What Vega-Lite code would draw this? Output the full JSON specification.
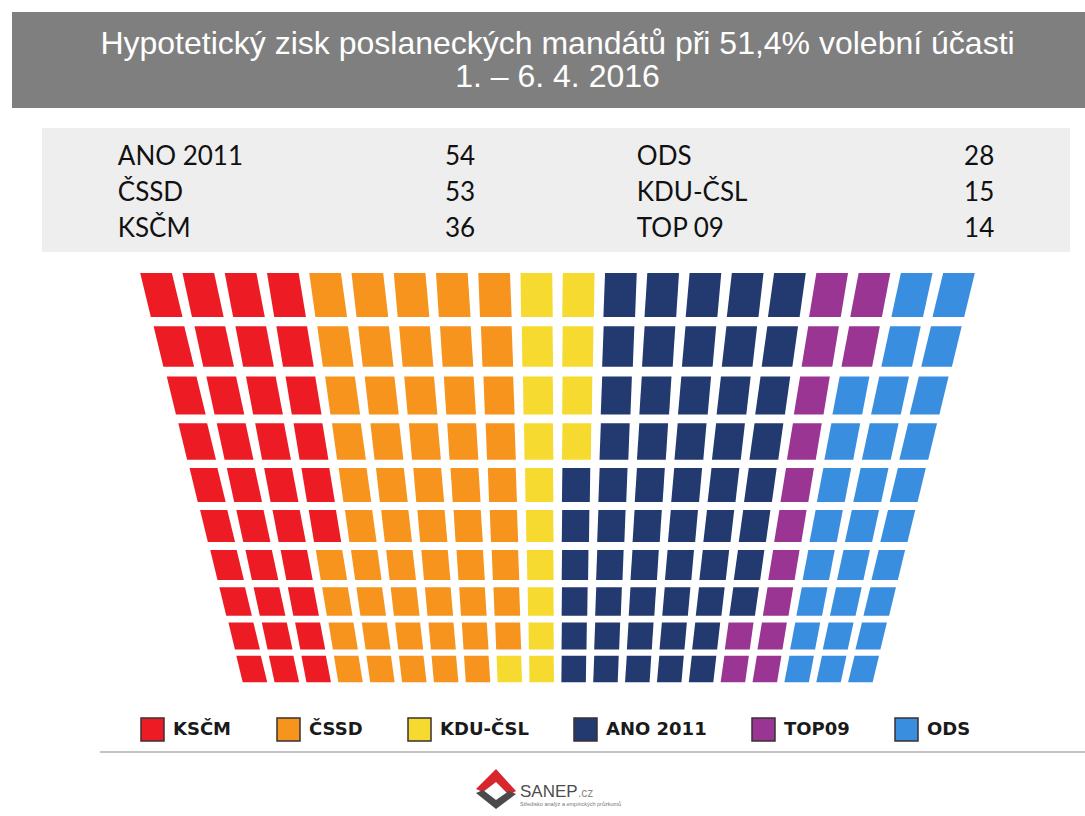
{
  "$schema": "https://vega.github.io/schema/vega-lite/v6.json",
  "background": "#ffffff",
  "padding": {"left": 12, "top": 12, "right": 0, "bottom": 0},
  "config": {"view": {"stroke": null}, "font": "Liberation Sans"},
  "datasets": {
    "table": [
      {"col": 1, "line": 1, "name": "ANO 2011", "seats": 54},
      {"col": 1, "line": 2, "name": "ČSSD", "seats": 53},
      {"col": 1, "line": 3, "name": "KSČM", "seats": 36},
      {"col": 2, "line": 1, "name": "ODS", "seats": 28},
      {"col": 2, "line": 2, "name": "KDU-ČSL", "seats": 15},
      {"col": 2, "line": 3, "name": "TOP 09", "seats": 14}
    ],
    "seats": [
      {"row":1,"col":1,"party":"KSČM"},{"row":1,"col":2,"party":"KSČM"},{"row":1,"col":3,"party":"KSČM"},{"row":1,"col":4,"party":"KSČM"},
      {"row":1,"col":5,"party":"ČSSD"},{"row":1,"col":6,"party":"ČSSD"},{"row":1,"col":7,"party":"ČSSD"},{"row":1,"col":8,"party":"ČSSD"},{"row":1,"col":9,"party":"ČSSD"},
      {"row":1,"col":10,"party":"KDU-ČSL"},{"row":1,"col":11,"party":"KDU-ČSL"},
      {"row":1,"col":12,"party":"ANO 2011"},{"row":1,"col":13,"party":"ANO 2011"},{"row":1,"col":14,"party":"ANO 2011"},{"row":1,"col":15,"party":"ANO 2011"},{"row":1,"col":16,"party":"ANO 2011"},
      {"row":1,"col":17,"party":"TOP09"},{"row":1,"col":18,"party":"TOP09"},
      {"row":1,"col":19,"party":"ODS"},{"row":1,"col":20,"party":"ODS"},

      {"row":2,"col":1,"party":"KSČM"},{"row":2,"col":2,"party":"KSČM"},{"row":2,"col":3,"party":"KSČM"},{"row":2,"col":4,"party":"KSČM"},
      {"row":2,"col":5,"party":"ČSSD"},{"row":2,"col":6,"party":"ČSSD"},{"row":2,"col":7,"party":"ČSSD"},{"row":2,"col":8,"party":"ČSSD"},{"row":2,"col":9,"party":"ČSSD"},
      {"row":2,"col":10,"party":"KDU-ČSL"},{"row":2,"col":11,"party":"KDU-ČSL"},
      {"row":2,"col":12,"party":"ANO 2011"},{"row":2,"col":13,"party":"ANO 2011"},{"row":2,"col":14,"party":"ANO 2011"},{"row":2,"col":15,"party":"ANO 2011"},{"row":2,"col":16,"party":"ANO 2011"},
      {"row":2,"col":17,"party":"TOP09"},{"row":2,"col":18,"party":"TOP09"},
      {"row":2,"col":19,"party":"ODS"},{"row":2,"col":20,"party":"ODS"},

      {"row":3,"col":1,"party":"KSČM"},{"row":3,"col":2,"party":"KSČM"},{"row":3,"col":3,"party":"KSČM"},{"row":3,"col":4,"party":"KSČM"},
      {"row":3,"col":5,"party":"ČSSD"},{"row":3,"col":6,"party":"ČSSD"},{"row":3,"col":7,"party":"ČSSD"},{"row":3,"col":8,"party":"ČSSD"},{"row":3,"col":9,"party":"ČSSD"},
      {"row":3,"col":10,"party":"KDU-ČSL"},{"row":3,"col":11,"party":"KDU-ČSL"},
      {"row":3,"col":12,"party":"ANO 2011"},{"row":3,"col":13,"party":"ANO 2011"},{"row":3,"col":14,"party":"ANO 2011"},{"row":3,"col":15,"party":"ANO 2011"},{"row":3,"col":16,"party":"ANO 2011"},
      {"row":3,"col":17,"party":"TOP09"},
      {"row":3,"col":18,"party":"ODS"},{"row":3,"col":19,"party":"ODS"},{"row":3,"col":20,"party":"ODS"},

      {"row":4,"col":1,"party":"KSČM"},{"row":4,"col":2,"party":"KSČM"},{"row":4,"col":3,"party":"KSČM"},{"row":4,"col":4,"party":"KSČM"},
      {"row":4,"col":5,"party":"ČSSD"},{"row":4,"col":6,"party":"ČSSD"},{"row":4,"col":7,"party":"ČSSD"},{"row":4,"col":8,"party":"ČSSD"},{"row":4,"col":9,"party":"ČSSD"},
      {"row":4,"col":10,"party":"KDU-ČSL"},{"row":4,"col":11,"party":"KDU-ČSL"},
      {"row":4,"col":12,"party":"ANO 2011"},{"row":4,"col":13,"party":"ANO 2011"},{"row":4,"col":14,"party":"ANO 2011"},{"row":4,"col":15,"party":"ANO 2011"},{"row":4,"col":16,"party":"ANO 2011"},
      {"row":4,"col":17,"party":"TOP09"},
      {"row":4,"col":18,"party":"ODS"},{"row":4,"col":19,"party":"ODS"},{"row":4,"col":20,"party":"ODS"},

      {"row":5,"col":1,"party":"KSČM"},{"row":5,"col":2,"party":"KSČM"},{"row":5,"col":3,"party":"KSČM"},{"row":5,"col":4,"party":"KSČM"},
      {"row":5,"col":5,"party":"ČSSD"},{"row":5,"col":6,"party":"ČSSD"},{"row":5,"col":7,"party":"ČSSD"},{"row":5,"col":8,"party":"ČSSD"},{"row":5,"col":9,"party":"ČSSD"},
      {"row":5,"col":10,"party":"KDU-ČSL"},
      {"row":5,"col":11,"party":"ANO 2011"},{"row":5,"col":12,"party":"ANO 2011"},{"row":5,"col":13,"party":"ANO 2011"},{"row":5,"col":14,"party":"ANO 2011"},{"row":5,"col":15,"party":"ANO 2011"},{"row":5,"col":16,"party":"ANO 2011"},
      {"row":5,"col":17,"party":"TOP09"},
      {"row":5,"col":18,"party":"ODS"},{"row":5,"col":19,"party":"ODS"},{"row":5,"col":20,"party":"ODS"},

      {"row":6,"col":1,"party":"KSČM"},{"row":6,"col":2,"party":"KSČM"},{"row":6,"col":3,"party":"KSČM"},{"row":6,"col":4,"party":"KSČM"},
      {"row":6,"col":5,"party":"ČSSD"},{"row":6,"col":6,"party":"ČSSD"},{"row":6,"col":7,"party":"ČSSD"},{"row":6,"col":8,"party":"ČSSD"},{"row":6,"col":9,"party":"ČSSD"},
      {"row":6,"col":10,"party":"KDU-ČSL"},
      {"row":6,"col":11,"party":"ANO 2011"},{"row":6,"col":12,"party":"ANO 2011"},{"row":6,"col":13,"party":"ANO 2011"},{"row":6,"col":14,"party":"ANO 2011"},{"row":6,"col":15,"party":"ANO 2011"},{"row":6,"col":16,"party":"ANO 2011"},
      {"row":6,"col":17,"party":"TOP09"},
      {"row":6,"col":18,"party":"ODS"},{"row":6,"col":19,"party":"ODS"},{"row":6,"col":20,"party":"ODS"},

      {"row":7,"col":1,"party":"KSČM"},{"row":7,"col":2,"party":"KSČM"},{"row":7,"col":3,"party":"KSČM"},
      {"row":7,"col":4,"party":"ČSSD"},{"row":7,"col":5,"party":"ČSSD"},{"row":7,"col":6,"party":"ČSSD"},{"row":7,"col":7,"party":"ČSSD"},{"row":7,"col":8,"party":"ČSSD"},{"row":7,"col":9,"party":"ČSSD"},
      {"row":7,"col":10,"party":"KDU-ČSL"},
      {"row":7,"col":11,"party":"ANO 2011"},{"row":7,"col":12,"party":"ANO 2011"},{"row":7,"col":13,"party":"ANO 2011"},{"row":7,"col":14,"party":"ANO 2011"},{"row":7,"col":15,"party":"ANO 2011"},{"row":7,"col":16,"party":"ANO 2011"},
      {"row":7,"col":17,"party":"TOP09"},
      {"row":7,"col":18,"party":"ODS"},{"row":7,"col":19,"party":"ODS"},{"row":7,"col":20,"party":"ODS"},

      {"row":8,"col":1,"party":"KSČM"},{"row":8,"col":2,"party":"KSČM"},{"row":8,"col":3,"party":"KSČM"},
      {"row":8,"col":4,"party":"ČSSD"},{"row":8,"col":5,"party":"ČSSD"},{"row":8,"col":6,"party":"ČSSD"},{"row":8,"col":7,"party":"ČSSD"},{"row":8,"col":8,"party":"ČSSD"},{"row":8,"col":9,"party":"ČSSD"},
      {"row":8,"col":10,"party":"KDU-ČSL"},
      {"row":8,"col":11,"party":"ANO 2011"},{"row":8,"col":12,"party":"ANO 2011"},{"row":8,"col":13,"party":"ANO 2011"},{"row":8,"col":14,"party":"ANO 2011"},{"row":8,"col":15,"party":"ANO 2011"},{"row":8,"col":16,"party":"ANO 2011"},
      {"row":8,"col":17,"party":"TOP09"},
      {"row":8,"col":18,"party":"ODS"},{"row":8,"col":19,"party":"ODS"},{"row":8,"col":20,"party":"ODS"},

      {"row":9,"col":1,"party":"KSČM"},{"row":9,"col":2,"party":"KSČM"},{"row":9,"col":3,"party":"KSČM"},
      {"row":9,"col":4,"party":"ČSSD"},{"row":9,"col":5,"party":"ČSSD"},{"row":9,"col":6,"party":"ČSSD"},{"row":9,"col":7,"party":"ČSSD"},{"row":9,"col":8,"party":"ČSSD"},{"row":9,"col":9,"party":"ČSSD"},
      {"row":9,"col":10,"party":"KDU-ČSL"},
      {"row":9,"col":11,"party":"ANO 2011"},{"row":9,"col":12,"party":"ANO 2011"},{"row":9,"col":13,"party":"ANO 2011"},{"row":9,"col":14,"party":"ANO 2011"},{"row":9,"col":15,"party":"ANO 2011"},
      {"row":9,"col":16,"party":"TOP09"},{"row":9,"col":17,"party":"TOP09"},
      {"row":9,"col":18,"party":"ODS"},{"row":9,"col":19,"party":"ODS"},{"row":9,"col":20,"party":"ODS"},

      {"row":10,"col":1,"party":"KSČM"},{"row":10,"col":2,"party":"KSČM"},{"row":10,"col":3,"party":"KSČM"},
      {"row":10,"col":4,"party":"ČSSD"},{"row":10,"col":5,"party":"ČSSD"},{"row":10,"col":6,"party":"ČSSD"},{"row":10,"col":7,"party":"ČSSD"},{"row":10,"col":8,"party":"ČSSD"},
      {"row":10,"col":9,"party":"KDU-ČSL"},{"row":10,"col":10,"party":"KDU-ČSL"},
      {"row":10,"col":11,"party":"ANO 2011"},{"row":10,"col":12,"party":"ANO 2011"},{"row":10,"col":13,"party":"ANO 2011"},{"row":10,"col":14,"party":"ANO 2011"},{"row":10,"col":15,"party":"ANO 2011"},
      {"row":10,"col":16,"party":"TOP09"},{"row":10,"col":17,"party":"TOP09"},
      {"row":10,"col":18,"party":"ODS"},{"row":10,"col":19,"party":"ODS"},{"row":10,"col":20,"party":"ODS"}
    ]
  },
  "spacing": 0,
  "center": true,
  "vconcat": [
    {
      "data": {"values": [{}]},
      "width": 1073, "height": 96,
      "view": {"fill": "#7f7f7f", "stroke": null},
      "mark": {"type": "text", "text": ["Hypotetický zisk poslaneckých mandátů při 51,4% volební účasti", "1. – 6. 4. 2016"], "font": "Liberation Sans", "fontSize": 32, "lineHeight": 33, "fill": "#ffffff", "align": "center", "baseline": "middle", "dx": 9, "dy": -16},
      "encoding": {}
    },
    {"data": {"values": []}, "width": 1, "height": 20, "mark": {"type": "text", "text": ""}, "encoding": {}},
    {
      "spacing": 0,
      "hconcat": [
        {"data": {"values": []}, "width": 15, "height": 1, "mark": {"type": "text", "text": ""}, "encoding": {}},
        {
          "data": {"name": "table"},
          "width": 1028, "height": 124,
          "view": {"fill": "#eeeeee", "stroke": null},
          "layer": [
            {
              "mark": {"type": "text", "align": "left", "baseline": "middle", "font": "Lato", "fontSize": 26, "fill": "#111111", "dy": 3},
              "encoding": {
                "x": {"field": "col", "type": "ordinal", "axis": null, "bandPosition": 0, "scale": {"type": "band", "paddingInner": 0.3115, "paddingOuter": 0.146}},
                "y": {"field": "line", "type": "ordinal", "axis": null, "scale": {"type": "band", "paddingInner": 0, "paddingOuter": 0.234}},
                "text": {"field": "name"}
              }
            },
            {
              "mark": {"type": "text", "align": "right", "baseline": "middle", "font": "Lato", "fontSize": 26, "fill": "#111111", "dy": 3},
              "encoding": {
                "x": {"field": "col", "type": "ordinal", "axis": null, "bandPosition": 1, "scale": {"type": "band", "paddingInner": 0.3115, "paddingOuter": 0.146}},
                "y": {"field": "line", "type": "ordinal", "axis": null, "scale": {"type": "band", "paddingInner": 0, "paddingOuter": 0.234}},
                "text": {"field": "seats"}
              }
            }
          ]
        }
      ]
    },
    {"data": {"values": []}, "width": 1, "height": 17, "mark": {"type": "text", "text": ""}, "encoding": {}},
    {
      "spacing": 0,
      "hconcat": [
        {"data": {"values": []}, "width": 18, "height": 1, "mark": {"type": "text", "text": ""}, "encoding": {}},
        {
          "data": {"name": "seats"},
          "spacing": 0,
          "center": true,
          "resolve": {"scale": {"x": "independent", "y": "independent", "shape": "independent"}},
          "vconcat": [
            {
              "width": 834, "height": 52,
              "transform": [{"filter": "datum.row === 1"}],
              "mark": {"type": "point", "filled": true, "opacity": 1, "size": 1936, "strokeWidth": 0},
              "encoding": {
                "x": {"field": "col", "type": "ordinal", "axis": null},
                "color": {"field": "party", "type": "nominal",
                  "scale": {"domain": ["KSČM", "ČSSD", "KDU-ČSL", "ANO 2011", "TOP09", "ODS"], "range": ["#ed1c24", "#f7941d", "#f6da2f", "#223a70", "#9a3593", "#3a8ee0"]},
                  "legend": {"title": null, "orient": "none", "legendX": 128, "legendY": 705, "direction": "horizontal", "symbolType": "square", "symbolSize": 529, "symbolStrokeWidth": 1.5, "symbolStrokeColor": "#3a3030", "labelFont": "DejaVu Sans", "labelFontSize": 18, "labelFontWeight": "bold", "labelColor": "#1a1a1a", "labelOffset": 8, "columnPadding": 42, "labelLimit": 300,
                    "encode": {"symbols": {"update": {"stroke": {"value": "#3a3030"}, "strokeWidth": {"value": 1.5}, "opacity": {"value": 1}}}}}},
                "shape": {"field": "col", "type": "nominal", "legend": null, "scale": {"domain": [1,2,3,4,5,6,7,8,9,10,11,12,13,14,15,16,17,18,19,20], "range": [
                  "M-0.962,-1L0.478,-1L0.962,1L-0.478,1Z","M-0.936,-1L0.504,-1L0.936,1L-0.504,1Z","M-0.911,-1L0.529,-1L0.911,1L-0.529,1Z","M-0.885,-1L0.555,-1L0.885,1L-0.555,1Z","M-0.86,-1L0.58,-1L0.86,1L-0.58,1Z",
                  "M-0.835,-1L0.605,-1L0.835,1L-0.605,1Z","M-0.809,-1L0.631,-1L0.809,1L-0.631,1Z","M-0.784,-1L0.656,-1L0.784,1L-0.656,1Z","M-0.758,-1L0.682,-1L0.758,1L-0.682,1Z","M-0.733,-1L0.707,-1L0.733,1L-0.707,1Z",
                  "M-0.707,-1L0.733,-1L0.707,1L-0.733,1Z","M-0.682,-1L0.758,-1L0.682,1L-0.758,1Z","M-0.656,-1L0.784,-1L0.656,1L-0.784,1Z","M-0.631,-1L0.809,-1L0.631,1L-0.809,1Z","M-0.605,-1L0.835,-1L0.605,1L-0.835,1Z",
                  "M-0.58,-1L0.86,-1L0.58,1L-0.86,1Z","M-0.555,-1L0.885,-1L0.555,1L-0.885,1Z","M-0.529,-1L0.911,-1L0.529,1L-0.911,1Z","M-0.504,-1L0.936,-1L0.504,1L-0.936,1Z","M-0.478,-1L0.962,-1L0.478,1L-0.962,1Z"]}}
              }
            },
            {
              "width": 808, "height": 51,
              "transform": [{"filter": "datum.row === 2"}],
              "mark": {"type": "point", "filled": true, "opacity": 1, "size": 1640, "strokeWidth": 0},
              "encoding": {
                "x": {"field": "col", "type": "ordinal", "axis": null},
                "color": {"field": "party", "type": "nominal", "legend": null},
                "shape": {"field": "col", "type": "nominal", "legend": null, "scale": {"domain": [1,2,3,4,5,6,7,8,9,10,11,12,13,14,15,16,17,18,19,20], "range": [
                  "M-1,-1L0.516,-1L1,1L-0.516,1Z","M-0.974,-1L0.542,-1L0.974,1L-0.542,1Z","M-0.949,-1L0.567,-1L0.949,1L-0.567,1Z","M-0.923,-1L0.593,-1L0.923,1L-0.593,1Z","M-0.898,-1L0.618,-1L0.898,1L-0.618,1Z",
                  "M-0.873,-1L0.643,-1L0.873,1L-0.643,1Z","M-0.847,-1L0.669,-1L0.847,1L-0.669,1Z","M-0.822,-1L0.694,-1L0.822,1L-0.694,1Z","M-0.796,-1L0.72,-1L0.796,1L-0.72,1Z","M-0.771,-1L0.745,-1L0.771,1L-0.745,1Z",
                  "M-0.745,-1L0.771,-1L0.745,1L-0.771,1Z","M-0.72,-1L0.796,-1L0.72,1L-0.796,1Z","M-0.694,-1L0.822,-1L0.694,1L-0.822,1Z","M-0.669,-1L0.847,-1L0.669,1L-0.847,1Z","M-0.643,-1L0.873,-1L0.643,1L-0.873,1Z",
                  "M-0.618,-1L0.898,-1L0.618,1L-0.898,1Z","M-0.593,-1L0.923,-1L0.593,1L-0.923,1Z","M-0.567,-1L0.949,-1L0.567,1L-0.949,1Z","M-0.542,-1L0.974,-1L0.542,1L-0.974,1Z","M-0.516,-1L1,-1L0.516,1L-1,1Z"]}}
              }
            },
            {
              "width": 782, "height": 47,
              "transform": [{"filter": "datum.row === 3"}],
              "mark": {"type": "point", "filled": true, "opacity": 1, "size": 1444, "strokeWidth": 0},
              "encoding": {
                "x": {"field": "col", "type": "ordinal", "axis": null},
                "color": {"field": "party", "type": "nominal", "legend": null},
                "shape": {"field": "col", "type": "nominal", "legend": null, "scale": {"domain": [1,2,3,4,5,6,7,8,9,10,11,12,13,14,15,16,17,18,19,20], "range": [
                  "M-1.024,-1L0.54,-1L1.024,1L-0.54,1Z","M-0.998,-1L0.566,-1L0.998,1L-0.566,1Z","M-0.973,-1L0.591,-1L0.973,1L-0.591,1Z","M-0.947,-1L0.617,-1L0.947,1L-0.617,1Z","M-0.922,-1L0.642,-1L0.922,1L-0.642,1Z",
                  "M-0.897,-1L0.667,-1L0.897,1L-0.667,1Z","M-0.871,-1L0.693,-1L0.871,1L-0.693,1Z","M-0.846,-1L0.718,-1L0.846,1L-0.718,1Z","M-0.82,-1L0.744,-1L0.82,1L-0.744,1Z","M-0.795,-1L0.769,-1L0.795,1L-0.769,1Z",
                  "M-0.769,-1L0.795,-1L0.769,1L-0.795,1Z","M-0.744,-1L0.82,-1L0.744,1L-0.82,1Z","M-0.718,-1L0.846,-1L0.718,1L-0.846,1Z","M-0.693,-1L0.871,-1L0.693,1L-0.871,1Z","M-0.667,-1L0.897,-1L0.667,1L-0.897,1Z",
                  "M-0.642,-1L0.922,-1L0.642,1L-0.922,1Z","M-0.617,-1L0.947,-1L0.617,1L-0.947,1Z","M-0.591,-1L0.973,-1L0.591,1L-0.973,1Z","M-0.566,-1L0.998,-1L0.566,1L-0.998,1Z","M-0.54,-1L1.024,-1L0.54,1L-1.024,1Z"]}}
              }
            },
            {
              "width": 759, "height": 45,
              "transform": [{"filter": "datum.row === 4"}],
              "mark": {"type": "point", "filled": true, "opacity": 1, "size": 1332, "strokeWidth": 0},
              "encoding": {
                "x": {"field": "col", "type": "ordinal", "axis": null},
                "color": {"field": "party", "type": "nominal", "legend": null},
                "shape": {"field": "col", "type": "nominal", "legend": null, "scale": {"domain": [1,2,3,4,5,6,7,8,9,10,11,12,13,14,15,16,17,18,19,20], "range": [
                  "M-1.032,-1L0.548,-1L1.032,1L-0.548,1Z","M-1.006,-1L0.574,-1L1.006,1L-0.574,1Z","M-0.981,-1L0.599,-1L0.981,1L-0.599,1Z","M-0.955,-1L0.625,-1L0.955,1L-0.625,1Z","M-0.93,-1L0.65,-1L0.93,1L-0.65,1Z",
                  "M-0.905,-1L0.675,-1L0.905,1L-0.675,1Z","M-0.879,-1L0.701,-1L0.879,1L-0.701,1Z","M-0.854,-1L0.726,-1L0.854,1L-0.726,1Z","M-0.828,-1L0.752,-1L0.828,1L-0.752,1Z","M-0.803,-1L0.777,-1L0.803,1L-0.777,1Z",
                  "M-0.777,-1L0.803,-1L0.777,1L-0.803,1Z","M-0.752,-1L0.828,-1L0.752,1L-0.828,1Z","M-0.726,-1L0.854,-1L0.726,1L-0.854,1Z","M-0.701,-1L0.879,-1L0.701,1L-0.879,1Z","M-0.675,-1L0.905,-1L0.675,1L-0.905,1Z",
                  "M-0.65,-1L0.93,-1L0.65,1L-0.93,1Z","M-0.625,-1L0.955,-1L0.625,1L-0.955,1Z","M-0.599,-1L0.981,-1L0.599,1L-0.981,1Z","M-0.574,-1L1.006,-1L0.574,1L-1.006,1Z","M-0.548,-1L1.032,-1L0.548,1L-1.032,1Z"]}}
              }
            },
            {
              "width": 737, "height": 42,
              "transform": [{"filter": "datum.row === 5"}],
              "mark": {"type": "point", "filled": true, "opacity": 1, "size": 1156, "strokeWidth": 0},
              "encoding": {
                "x": {"field": "col", "type": "ordinal", "axis": null},
                "color": {"field": "party", "type": "nominal", "legend": null},
                "shape": {"field": "col", "type": "nominal", "legend": null, "scale": {"domain": [1,2,3,4,5,6,7,8,9,10,11,12,13,14,15,16,17,18,19,20], "range": [
                  "M-1.062,-1L0.578,-1L1.062,1L-0.578,1Z","M-1.036,-1L0.604,-1L1.036,1L-0.604,1Z","M-1.011,-1L0.629,-1L1.011,1L-0.629,1Z","M-0.985,-1L0.655,-1L0.985,1L-0.655,1Z","M-0.96,-1L0.68,-1L0.96,1L-0.68,1Z",
                  "M-0.935,-1L0.705,-1L0.935,1L-0.705,1Z","M-0.909,-1L0.731,-1L0.909,1L-0.731,1Z","M-0.884,-1L0.756,-1L0.884,1L-0.756,1Z","M-0.858,-1L0.782,-1L0.858,1L-0.782,1Z","M-0.833,-1L0.807,-1L0.833,1L-0.807,1Z",
                  "M-0.807,-1L0.833,-1L0.807,1L-0.833,1Z","M-0.782,-1L0.858,-1L0.782,1L-0.858,1Z","M-0.756,-1L0.884,-1L0.756,1L-0.884,1Z","M-0.731,-1L0.909,-1L0.731,1L-0.909,1Z","M-0.705,-1L0.935,-1L0.705,1L-0.935,1Z",
                  "M-0.68,-1L0.96,-1L0.68,1L-0.96,1Z","M-0.655,-1L0.985,-1L0.655,1L-0.985,1Z","M-0.629,-1L1.011,-1L0.629,1L-1.011,1Z","M-0.604,-1L1.036,-1L0.604,1L-1.036,1Z","M-0.578,-1L1.062,-1L0.578,1L-1.062,1Z"]}}
              }
            },
            {
              "width": 716, "height": 40,
              "transform": [{"filter": "datum.row === 6"}],
              "mark": {"type": "point", "filled": true, "opacity": 1, "size": 1024, "strokeWidth": 0},
              "encoding": {
                "x": {"field": "col", "type": "ordinal", "axis": null},
                "color": {"field": "party", "type": "nominal", "legend": null},
                "shape": {"field": "col", "type": "nominal", "legend": null, "scale": {"domain": [1,2,3,4,5,6,7,8,9,10,11,12,13,14,15,16,17,18,19,20], "range": [
                  "M-1.092,-1L0.608,-1L1.092,1L-0.608,1Z","M-1.066,-1L0.634,-1L1.066,1L-0.634,1Z","M-1.041,-1L0.659,-1L1.041,1L-0.659,1Z","M-1.015,-1L0.685,-1L1.015,1L-0.685,1Z","M-0.99,-1L0.71,-1L0.99,1L-0.71,1Z",
                  "M-0.965,-1L0.735,-1L0.965,1L-0.735,1Z","M-0.939,-1L0.761,-1L0.939,1L-0.761,1Z","M-0.914,-1L0.786,-1L0.914,1L-0.786,1Z","M-0.888,-1L0.812,-1L0.888,1L-0.812,1Z","M-0.863,-1L0.837,-1L0.863,1L-0.837,1Z",
                  "M-0.837,-1L0.863,-1L0.837,1L-0.863,1Z","M-0.812,-1L0.888,-1L0.812,1L-0.888,1Z","M-0.786,-1L0.914,-1L0.786,1L-0.914,1Z","M-0.761,-1L0.939,-1L0.761,1L-0.939,1Z","M-0.735,-1L0.965,-1L0.735,1L-0.965,1Z",
                  "M-0.71,-1L0.99,-1L0.71,1L-0.99,1Z","M-0.685,-1L1.015,-1L0.685,1L-1.015,1Z","M-0.659,-1L1.041,-1L0.659,1L-1.041,1Z","M-0.634,-1L1.066,-1L0.634,1L-1.066,1Z","M-0.608,-1L1.092,-1L0.608,1L-1.092,1Z"]}}
              }
            },
            {
              "width": 696, "height": 38,
              "transform": [{"filter": "datum.row === 7"}],
              "mark": {"type": "point", "filled": true, "opacity": 1, "size": 900, "strokeWidth": 0},
              "encoding": {
                "x": {"field": "col", "type": "ordinal", "axis": null},
                "color": {"field": "party", "type": "nominal", "legend": null},
                "shape": {"field": "col", "type": "nominal", "legend": null, "scale": {"domain": [1,2,3,4,5,6,7,8,9,10,11,12,13,14,15,16,17,18,19,20], "range": [
                  "M-1.122,-1L0.638,-1L1.122,1L-0.638,1Z","M-1.096,-1L0.664,-1L1.096,1L-0.664,1Z","M-1.071,-1L0.689,-1L1.071,1L-0.689,1Z","M-1.045,-1L0.715,-1L1.045,1L-0.715,1Z","M-1.02,-1L0.74,-1L1.02,1L-0.74,1Z",
                  "M-0.995,-1L0.765,-1L0.995,1L-0.765,1Z","M-0.969,-1L0.791,-1L0.969,1L-0.791,1Z","M-0.944,-1L0.816,-1L0.944,1L-0.816,1Z","M-0.918,-1L0.842,-1L0.918,1L-0.842,1Z","M-0.893,-1L0.867,-1L0.893,1L-0.867,1Z",
                  "M-0.867,-1L0.893,-1L0.867,1L-0.893,1Z","M-0.842,-1L0.918,-1L0.842,1L-0.918,1Z","M-0.816,-1L0.944,-1L0.816,1L-0.944,1Z","M-0.791,-1L0.969,-1L0.791,1L-0.969,1Z","M-0.765,-1L0.995,-1L0.765,1L-0.995,1Z",
                  "M-0.74,-1L1.02,-1L0.74,1L-1.02,1Z","M-0.715,-1L1.045,-1L0.715,1L-1.045,1Z","M-0.689,-1L1.071,-1L0.689,1L-1.071,1Z","M-0.664,-1L1.096,-1L0.664,1L-1.096,1Z","M-0.638,-1L1.122,-1L0.638,1L-1.122,1Z"]}}
              }
            },
            {
              "width": 678, "height": 35,
              "transform": [{"filter": "datum.row === 8"}],
              "mark": {"type": "point", "filled": true, "opacity": 1, "size": 812, "strokeWidth": 0},
              "encoding": {
                "x": {"field": "col", "type": "ordinal", "axis": null},
                "color": {"field": "party", "type": "nominal", "legend": null},
                "shape": {"field": "col", "type": "nominal", "legend": null, "scale": {"domain": [1,2,3,4,5,6,7,8,9,10,11,12,13,14,15,16,17,18,19,20], "range": [
                  "M-1.142,-1L0.658,-1L1.142,1L-0.658,1Z","M-1.116,-1L0.684,-1L1.116,1L-0.684,1Z","M-1.091,-1L0.709,-1L1.091,1L-0.709,1Z","M-1.065,-1L0.735,-1L1.065,1L-0.735,1Z","M-1.04,-1L0.76,-1L1.04,1L-0.76,1Z",
                  "M-1.015,-1L0.785,-1L1.015,1L-0.785,1Z","M-0.989,-1L0.811,-1L0.989,1L-0.811,1Z","M-0.964,-1L0.836,-1L0.964,1L-0.836,1Z","M-0.938,-1L0.862,-1L0.938,1L-0.862,1Z","M-0.913,-1L0.887,-1L0.913,1L-0.887,1Z",
                  "M-0.887,-1L0.913,-1L0.887,1L-0.913,1Z","M-0.862,-1L0.938,-1L0.862,1L-0.938,1Z","M-0.836,-1L0.964,-1L0.836,1L-0.964,1Z","M-0.811,-1L0.989,-1L0.811,1L-0.989,1Z","M-0.785,-1L1.015,-1L0.785,1L-1.015,1Z",
                  "M-0.76,-1L1.04,-1L0.76,1L-1.04,1Z","M-0.735,-1L1.065,-1L0.735,1L-1.065,1Z","M-0.709,-1L1.091,-1L0.709,1L-1.091,1Z","M-0.684,-1L1.116,-1L0.684,1L-1.116,1Z","M-0.658,-1L1.142,-1L0.658,1L-1.142,1Z"]}}
              }
            },
            {
              "width": 660, "height": 34,
              "transform": [{"filter": "datum.row === 9"}],
              "mark": {"type": "point", "filled": true, "opacity": 1, "size": 729, "strokeWidth": 0},
              "encoding": {
                "x": {"field": "col", "type": "ordinal", "axis": null},
                "color": {"field": "party", "type": "nominal", "legend": null},
                "shape": {"field": "col", "type": "nominal", "legend": null, "scale": {"domain": [1,2,3,4,5,6,7,8,9,10,11,12,13,14,15,16,17,18,19,20], "range": [
                  "M-1.167,-1L0.683,-1L1.167,1L-0.683,1Z","M-1.141,-1L0.709,-1L1.141,1L-0.709,1Z","M-1.116,-1L0.734,-1L1.116,1L-0.734,1Z","M-1.09,-1L0.76,-1L1.09,1L-0.76,1Z","M-1.065,-1L0.785,-1L1.065,1L-0.785,1Z",
                  "M-1.04,-1L0.81,-1L1.04,1L-0.81,1Z","M-1.014,-1L0.836,-1L1.014,1L-0.836,1Z","M-0.989,-1L0.861,-1L0.989,1L-0.861,1Z","M-0.963,-1L0.887,-1L0.963,1L-0.887,1Z","M-0.938,-1L0.912,-1L0.938,1L-0.912,1Z",
                  "M-0.912,-1L0.938,-1L0.912,1L-0.938,1Z","M-0.887,-1L0.963,-1L0.887,1L-0.963,1Z","M-0.861,-1L0.989,-1L0.861,1L-0.989,1Z","M-0.836,-1L1.014,-1L0.836,1L-1.014,1Z","M-0.81,-1L1.04,-1L0.81,1L-1.04,1Z",
                  "M-0.785,-1L1.065,-1L0.785,1L-1.065,1Z","M-0.76,-1L1.09,-1L0.76,1L-1.09,1Z","M-0.734,-1L1.116,-1L0.734,1L-1.116,1Z","M-0.709,-1L1.141,-1L0.709,1L-1.141,1Z","M-0.683,-1L1.167,-1L0.683,1L-1.167,1Z"]}}
              }
            },
            {
              "width": 644, "height": 32,
              "transform": [{"filter": "datum.row === 10"}],
              "mark": {"type": "point", "filled": true, "opacity": 1, "size": 702, "strokeWidth": 0},
              "encoding": {
                "x": {"field": "col", "type": "ordinal", "axis": null},
                "color": {"field": "party", "type": "nominal", "legend": null},
                "shape": {"field": "col", "type": "nominal", "legend": null, "scale": {"domain": [1,2,3,4,5,6,7,8,9,10,11,12,13,14,15,16,17,18,19,20], "range": [
                  "M-1.167,-1L0.683,-1L1.167,1L-0.683,1Z","M-1.141,-1L0.709,-1L1.141,1L-0.709,1Z","M-1.116,-1L0.734,-1L1.116,1L-0.734,1Z","M-1.09,-1L0.76,-1L1.09,1L-0.76,1Z","M-1.065,-1L0.785,-1L1.065,1L-0.785,1Z",
                  "M-1.04,-1L0.81,-1L1.04,1L-0.81,1Z","M-1.014,-1L0.836,-1L1.014,1L-0.836,1Z","M-0.989,-1L0.861,-1L0.989,1L-0.861,1Z","M-0.963,-1L0.887,-1L0.963,1L-0.887,1Z","M-0.938,-1L0.912,-1L0.938,1L-0.912,1Z",
                  "M-0.912,-1L0.938,-1L0.912,1L-0.938,1Z","M-0.887,-1L0.963,-1L0.887,1L-0.963,1Z","M-0.861,-1L0.989,-1L0.861,1L-0.989,1Z","M-0.836,-1L1.014,-1L0.836,1L-1.014,1Z","M-0.81,-1L1.04,-1L0.81,1L-1.04,1Z",
                  "M-0.785,-1L1.065,-1L0.785,1L-1.065,1Z","M-0.76,-1L1.09,-1L0.76,1L-1.09,1Z","M-0.734,-1L1.116,-1L0.734,1L-1.116,1Z","M-0.709,-1L1.141,-1L0.709,1L-1.141,1Z","M-0.683,-1L1.167,-1L0.683,1L-1.167,1Z"]}}
              }
            }
          ]
        }
      ]
    },
    {"data": {"values": []}, "width": 1, "height": 66, "mark": {"type": "text", "text": ""}, "encoding": {}},
    {
      "spacing": 0,
      "hconcat": [
        {"data": {"values": []}, "width": 88, "height": 2, "mark": {"type": "text", "text": ""}, "encoding": {}},
        {"data": {"values": []}, "width": 985, "height": 2, "view": {"fill": "#c4c4c4", "stroke": null}, "mark": {"type": "text", "text": ""}, "encoding": {}}
      ]
    },
    {"data": {"values": []}, "width": 1, "height": 15, "mark": {"type": "text", "text": ""}, "encoding": {}},
    {
      "spacing": 0,
      "hconcat": [
        {"data": {"values": []}, "width": 13, "height": 1, "mark": {"type": "text", "text": ""}, "encoding": {}},
        {
          "data": {"values": [{}]},
          "width": 160, "height": 42,
          "layer": [
            {"mark": {"type": "point", "filled": true, "opacity": 1, "size": 400, "strokeWidth": 0, "color": "#d8262d", "shape": "M-7.9,0L-5.9,-2L-3.9,0.2L-4.6,0.6L-5.9,-0.7L-7.2,0.3Z"}, "encoding": {}},
            {"mark": {"type": "point", "filled": true, "opacity": 1, "size": 400, "strokeWidth": 0, "color": "#4a4a4a", "shape": "M-7.9,0.4L-7.2,0.1L-5.9,1.1L-4.6,0.2L-3.9,0.5L-5.9,2Z"}, "encoding": {}},
            {"mark": {"type": "text", "text": "SANEP", "align": "left", "baseline": "alphabetic", "dx": -35, "dy": 8, "font": "Liberation Sans", "fontSize": 17, "fill": "#4d4d4d"}, "encoding": {}},
            {"mark": {"type": "text", "text": ".cz", "align": "left", "baseline": "alphabetic", "dx": 23, "dy": 8, "font": "Liberation Sans", "fontSize": 12, "fill": "#8a8a8a"}, "encoding": {}},
            {"mark": {"type": "text", "text": "Středisko analýz a empirických průzkumů", "align": "left", "baseline": "alphabetic", "dx": -35, "dy": 17, "font": "Liberation Sans", "fontSize": 5.5, "fill": "#777777"}, "encoding": {}}
          ]
        }
      ]
    }
  ]
}
